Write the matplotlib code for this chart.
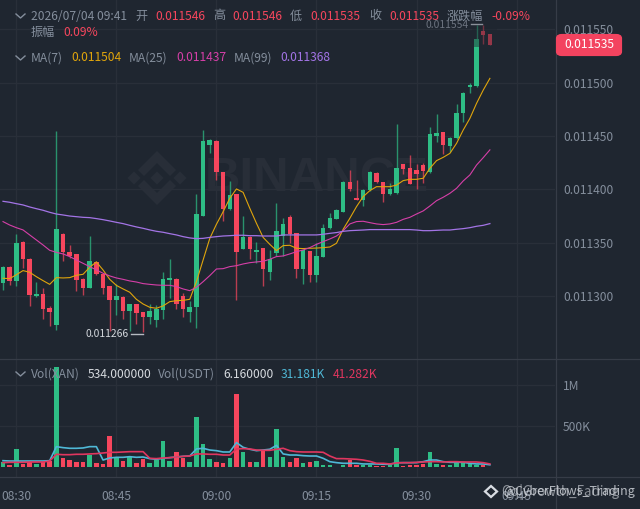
import matplotlib
matplotlib.use("Agg")
import matplotlib.pyplot as plt
from matplotlib.patches import Polygon, FancyBboxPatch
from matplotlib.lines import Line2D

plt.rcParams['font.family'] = ['Noto Sans CJK SC', 'DejaVu Sans']

# Prices are given in units of 1e-6 above 0.011000, one candle per minute from 08:28 to 09:41
BASE = 11000
opens = [312,327,314,351,335,300,302,289,273,358,341,339,316,308,332,321,309,296,299,286,293,285,280,278,287,315,316,300,285,290,
         375,442,445,416,382,396,344,355,341,345,323,340,356,374,359,325,342,320,337,364,372,379,407,392,390,399,415,407,396,397,
         424,420,418,423,416,450,454,441,448,472,496,497,548,546]
closes = [327,314,350,335,301,302,288,285,363,341,338,315,308,333,321,308,296,300,286,293,284,280,286,288,316,317,293,288,290,377,
          445,446,416,382,395,341,355,344,343,325,335,361,368,358,325,343,320,338,364,373,381,407,400,390,399,416,407,396,400,420,
          419,405,414,417,452,453,442,448,472,490,498,541,545,535]
highs = [328,328,358,352,336,313,308,291,455,359,348,339,317,356,333,322,309,311,300,293,293,285,293,292,323,335,317,303,295,396,
         456,447,446,416,408,396,375,356,351,345,343,387,373,376,359,343,342,350,368,378,382,408,418,409,400,417,416,407,406,461,
         424,432,424,425,458,471,454,449,480,491,500,554,554,546]
lows = [306,310,309,326,291,299,279,272,268,333,336,305,301,308,320,302,267,282,279,267,274,266,274,271,279,298,288,280,276,270,
        375,434,409,370,381,296,344,335,331,309,315,338,338,350,317,311,313,313,337,363,372,379,398,390,384,398,406,388,395,396,
        414,405,400,406,415,444,433,435,447,463,490,496,536,535]

ma7 = [316.7,316.4,320,323.9,322.3,318.2,314.5,311,317.3,317,317.3,319.5,320.4,327,332,324.5,315.7,310,306.7,303.6,297,292.6,289.5,288.6,290.8,294.8,295.7,296,297,
       313.5,333.8,354,367.3,379,391.6,400.4,397.2,382.3,368.2,355,348.5,342.6,
       347.3,347.6,344.8,344.5,344.8,345,345.4,346,349.5,362.6,372.9,383.8,393.2,398.8,402.5,402.5,402.5,404,408.2,409.4,409.4,410.4,419.7,426.9,430,433.7,443.1,455.6,466.5,480.6,493,504]
ma25 = [369.8,366.6,364.1,362,357.3,352.6,347.9,342.9,341,339.5,337,333.8,330.7,327.6,324.5,321.4,318.9,317,315.7,314.2,313.2,311.7,311,310.4,310.1,310.1,308.9,306.7,305.1,308.2,313.5,319.2,325.4,325.7,327.6,328.5,330.1,331.3,332,332.6,334.5,337,
        337.6,339.5,341.6,343.2,345.4,348.5,351,353.5,356.3,361.3,367.6,369.8,370.1,368.8,367.6,367,367.6,369.1,371.9,373.8,376.9,379.8,384.4,389.4,392.6,396.3,401,407.9,413.5,422.8,429.7,437]
ma99 = [388.8,387.9,386.6,385.4,383.5,381.9,380.4,378.5,376.9,376,375,374.4,373.8,373.5,372.6,371.6,370.4,369.1,367.9,366.3,364.8,363.5,362,360.7,359.8,358.5,357.3,355.7,354.5,353.8,354.1,355,355.7,356.3,356.6,357,357,356.6,356.6,356.3,356.3,356.3,
        357.3,357.3,357.3,357.3,357.3,357.3,357.9,358.8,359.5,360.7,361.3,361.6,361.9,362.3,362.3,362.3,362.3,362.3,362.3,362.3,361.9,361.3,361.3,361.6,361.9,361.9,362.6,363.2,364.1,365.4,366.3,367.9]

# Volume in thousands
volume = [69,28,224,41,69,41,69,81,1220,110,89,61,69,150,57,41,382,110,77,122,49,102,57,89,321,77,183,118,69,610,285,102,65,57,118,898,191,69,65,211,122,467,
          130,69,118,49,65,81,28,24,8,24,89,24,24,24,12,16,24,232,16,28,28,37,183,41,28,28,49,49,37,33,24,8]
vol_ma_a = [81,77,77,77,77,77,77,81,252,240,232,232,236,252,252,89,114,122,122,130,122,126,106,98,110,118,126,134,138,224,232,211,203,187,187,301,244,220,203,211,220,268,
            163,150,150,142,138,138,110,69,57,49,49,49,41,41,41,37,37,57,57,57,57,69,89,89,69,61,61,61,49,41,41,31]
vol_ma_b = [57,61,61,61,65,65,65,77,159,154,154,159,159,163,167,175,183,183,187,191,191,191,110,106,114,118,126,134,138,163,163,159,159,150,150,224,228,224,211,207,207,220,
            232,203,191,187,187,187,183,138,106,106,102,98,89,73,49,49,41,53,57,57,61,65,69,69,65,69,69,65,65,65,57,41]

price_ticks = [11300,11350,11400,11450,11500,11550]
price_labels = ['0.011300','0.011350','0.011400','0.011450','0.011500','0.011550']
time_ticks = [2,17,32,47,62,77]
time_labels = ['08:30','08:45','09:00','09:15','09:30','09:45']
vol_ticks = [500,1000]
vol_labels = ['500K','1M']

BG='#1f2630'; GRID='#292f39'; EDGE='#363c47'; GREY='#848e9c'
GREEN='#2ebd85'; RED='#f6465d'
W,H=640,509
fig=plt.figure(figsize=(6.4,5.09),dpi=100,facecolor=BG)
ax=fig.add_axes([0,(H-358)/H,555/W,358/H],facecolor=BG)
vx=fig.add_axes([0,(H-477)/H,555/W,119/H],facecolor=BG)
xlim=(-0.45,82.76)
idx=list(range(len(opens)))
o_=[BASE+v for v in opens]; c_=[BASE+v for v in closes]
h_=[BASE+v for v in highs]; l_=[BASE+v for v in lows]

def px(x,y): return (x/W,1-y/H)
def T(x,y,s,c=GREY,ha='left',size=8.7,**k):
    fig.text(*px(x,y),s,color=c,ha=ha,va='center',fontsize=size,zorder=20,**k)

# watermark
WM='#282e38'
lx,ly=157,178
for dx,r in [(0,6.5),(-23,6.5),(23,6.5)]:
    ax.add_patch(Polygon([px(lx+dx,ly-r),px(lx+dx+r,ly),px(lx+dx,ly+r),px(lx+dx-r,ly)],closed=True,fc=WM,ec='none',
                         transform=fig.transFigure,zorder=0.5))
for sy in (-1,1):
    ax.add_patch(Polygon([px(lx-19,ly+sy*8),px(lx,ly+sy*27),px(lx+19,ly+sy*8),px(lx+13,ly+sy*2),px(lx,ly+sy*15),px(lx-13,ly+sy*2)],
                         closed=True,fc=WM,ec='none',transform=fig.transFigure,zorder=0.5))
ax.text(*px(205,179),'BINANCE',transform=fig.transFigure,color=WM,fontsize=35.5,fontweight='bold',
        family='Liberation Sans',va='center',ha='left',zorder=0.5)

# price panel
ax.set_xlim(*xlim); ax.set_ylim(11242,11577.4)
colors=[GREEN if c>=o else RED for o,c in zip(o_,c_)]
ax.vlines(idx,l_,h_,colors=colors,linewidth=1.0,alpha=0.72,zorder=3)
ax.bar(idx,[max(abs(c-o),1.5) for o,c in zip(o_,c_)],bottom=[min(o,c) for o,c in zip(o_,c_)],
       width=0.68,color=colors,linewidth=0,zorder=4)
ax.plot(idx,[BASE+v for v in ma7],color='#e0a50c',lw=0.8,zorder=5)
ax.plot(idx,[BASE+v for v in ma25],color='#d63fa8',lw=0.8,zorder=5)
ax.plot(idx,[BASE+v for v in ma99],color='#a374e6',lw=0.9,zorder=5)
ax.set_xticks(time_ticks); ax.set_xticklabels([])
ax.set_yticks(price_ticks); ax.set_yticklabels(price_labels)
ax.yaxis.tick_right()
ax.tick_params(axis='y',length=0,pad=5.8,labelcolor=GREY,labelsize=8.7)
ax.tick_params(axis='x',length=0)
ax.grid(True,color=GRID,lw=1.0,zorder=1); ax.set_axisbelow(True)
for s in ax.spines.values(): s.set_visible(False)
ax.add_patch(Polygon([px(472,20),px(497,20),px(497,47),px(472,47)],closed=True,fc=BG,ec='none',alpha=0.45,
                     transform=fig.transFigure,zorder=6))

# volume panel
vx.set_xlim(*xlim); vx.set_ylim(-118,1333)
vx.bar(idx,volume,width=0.68,color=colors,linewidth=0,zorder=3)
vx.plot(idx,vol_ma_a,color='#4fb8d6',lw=1.2,zorder=4)
vx.plot(idx,vol_ma_b,color='#e0365f',lw=1.2,zorder=5)
vx.set_xticks(time_ticks); vx.set_xticklabels(time_labels)
vx.set_yticks(vol_ticks); vx.set_yticklabels(vol_labels)
vx.yaxis.tick_right()
vx.tick_params(axis='y',length=0,pad=5.8,labelcolor=GREY,labelsize=8.7)
vx.tick_params(axis='x',length=0,pad=9,labelcolor=GREY,labelsize=8.7)
vx.grid(True,color=GRID,lw=1.0,zorder=1); vx.set_axisbelow(True)
for s in vx.spines.values(): s.set_visible(False)

# frame lines
for (x0,y0,x1,y1) in [(0,358.5,640,358.5),(0,477,640,477),(555.5,0,555.5,509)]:
    fig.add_artist(Line2D([x0/W,x1/W],[1-y0/H,1-y1/H],color=EDGE,lw=0.9,zorder=8))

# header
T(31,16,'2026/07/04 09:41')
for x,s,c in [(135,'开',GREY),(155,'0.011546',RED),(213,'高',GREY),(232,'0.011546',RED),(290,'低',GREY),
              (310,'0.011535',RED),(369,'收',GREY),(389,'0.011535',RED),(447,'涨跌幅',GREY),(491,'-0.09%',RED)]:
    T(x,16,s,c)
T(31,32,'振幅'); T(63,32,'0.09%',RED)
for x,s,c in [(31,'MA(7)',GREY),(71,'0.011504','#e0a50c'),(129,'MA(25)',GREY),(176,'0.011437','#d63fa8'),
              (234,'MA(99)',GREY),(280,'0.011368','#a374e6')]:
    T(x,58,s,c)
for x,s,c in [(31,'Vol(XAN)',GREY),(88,'534.000000','#d5d9de'),(158,'Vol(USDT)',GREY),(223,'6.160000','#d5d9de'),
              (281,'31.181K','#4fb8d6'),(333,'41.282K','#e0365f')]:
    T(x,374,s,c)
for cy in (14,56,372):
    fig.add_artist(Line2D([16/W,20.5/W,25/W],[1-cy/H,1-(cy+4)/H,1-cy/H],color=GREY,lw=1.0,zorder=20))

# extreme markers
T(426,25,'0.011554',c='#6d7480',size=7.4)
fig.add_artist(Line2D([471/W,482/W],[1-24/H,1-24/H],color='#8a909a',lw=1.0,zorder=20))
T(86,334,'0.011266',c='#d5d9de',size=7.4)
fig.add_artist(Line2D([131/W,143/W],[1-334/H,1-334/H],color='#b5bac1',lw=1.0,zorder=20))

# last price tag
fig.add_artist(FancyBboxPatch((558/W,1-54/H),62/W,18/H,boxstyle='round,pad=0,rounding_size=0.006',mutation_aspect=509/640,
                              transform=fig.transFigure,fc='#f3435f',ec='#f3435f',lw=3,zorder=19))
T(589,45,'0.011535','#ffffff',ha='center')

# footer watermark (overlapping strings, as in the source)
foot='#d8dce2'
fig.add_artist(Polygon([px(491,486),px(497,491.5),px(491,497),px(485,491.5)],closed=True,fill=False,ec=foot,lw=1.6,
                       transform=fig.transFigure,zorder=20))
T(503,492,'@CyberFlows_Trading',foot,size=9,alpha=0.8)
T(501,492,'Oq|Growth_Fading',foot,size=9.6,alpha=0.6)

fig.savefig('out.png',dpi=100,facecolor=BG)
